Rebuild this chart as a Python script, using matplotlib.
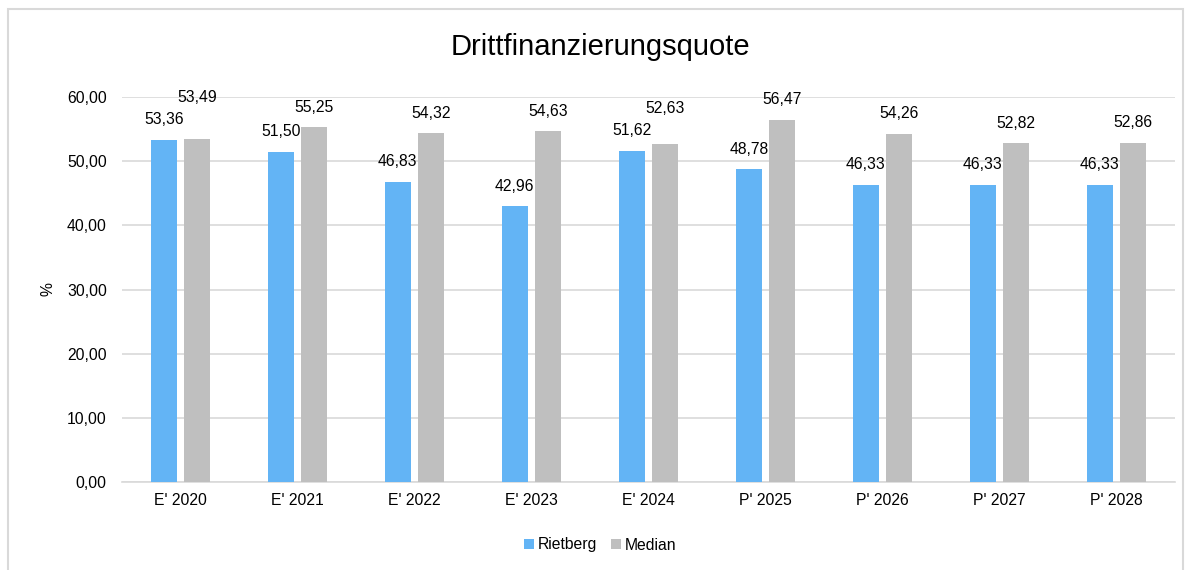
import matplotlib.pyplot as plt
import numpy as np
from matplotlib.patches import Rectangle

plt.rcParams["font.family"] = ["Liberation Sans", "DejaVu Sans"]

kategorien = ["E' 2020", "E' 2021", "E' 2022", "E' 2023", "E' 2024",
              "P' 2025", "P' 2026", "P' 2027", "P' 2028"]
rietberg = [53.36, 51.50, 46.83, 42.96, 51.62, 48.78, 46.33, 46.33, 46.33]
median = [53.49, 55.25, 54.32, 54.63, 52.63, 56.47, 54.26, 52.82, 52.86]

def fmt(v):
    return f"{v:.2f}".replace(".", ",")

fs = 11.3

fig = plt.figure(figsize=(12, 5.7), dpi=100)
ax = fig.add_axes([0.1017, 0.1544, 0.8775, 0.6754])

# Rahmen um das Diagramm
fig.patches.append(Rectangle((8 / 1200, -0.05), 1175 / 1200, 1 - 9 / 570 + 0.05,
                             transform=fig.transFigure, fill=False,
                             edgecolor="#D9D9D9", linewidth=1.5))

x = np.arange(len(kategorien))
breite = 0.225
abstand = 0.06
b1 = ax.bar(x - (breite + abstand) / 2, rietberg, breite, color="#63B4F5", label="Rietberg", zorder=3)
b2 = ax.bar(x + (breite + abstand) / 2, median, breite, color="#BFBFBF", label="Median", zorder=3)

ax.set_ylim(0, 60)
ax.set_xlim(-0.5, len(kategorien) - 0.5)

# Pixel pro Dateneinheit, um überlappende Beschriftungen zu verschieben
px_pro_einheit = ax.transData.transform((0, 1))[1] - ax.transData.transform((0, 0))[1]
pt_pro_px = 72 / fig.dpi
grund = 20  # px über dem Balken
min_abstand = 22  # px zwischen den beiden Beschriftungen

for i in range(len(kategorien)):
    ax.annotate(fmt(rietberg[i]), (b1[i].get_x() + breite / 2, rietberg[i]),
                xytext=(0, grund * pt_pro_px), textcoords="offset points",
                ha="center", va="center", fontsize=fs)
    blau_px = rietberg[i] * px_pro_einheit + grund
    grau_px = max(median[i] * px_pro_einheit + grund, blau_px + min_abstand)
    off = grau_px - median[i] * px_pro_einheit
    ax.annotate(fmt(median[i]), (b2[i].get_x() + breite / 2, median[i]),
                xytext=(0, off * pt_pro_px), textcoords="offset points",
                ha="center", va="center", fontsize=fs)

ax.set_yticks(np.arange(0, 61, 10))
ax.set_yticklabels([fmt(t) for t in np.arange(0, 61, 10)], fontsize=fs)
ax.set_xticks(x)
ax.set_xticklabels(kategorien, fontsize=fs)
ax.tick_params(length=0)
ax.tick_params(axis="x", pad=8)
ax.tick_params(axis="y", pad=11)
ax.grid(axis="y", color="#D9D9D9", linewidth=1.2, zorder=0)
for s in ("top", "right", "left"):
    ax.spines[s].set_visible(False)
ax.spines["bottom"].set_color("#D9D9D9")
ax.spines["bottom"].set_linewidth(1.2)
ax.set_ylabel("%", fontsize=fs, labelpad=8)

fig.text(0.5, 1 - 47 / 570, "Drittfinanzierungsquote", ha="center", va="center", fontsize=21)
fig.legend(loc="center", bbox_to_anchor=(0.5, 1 - 545 / 570), ncol=2, frameon=False,
           fontsize=fs, handlelength=0.65, handleheight=0.65, handletextpad=0.2, columnspacing=0.9)

plt.savefig("out.png", dpi=100)
